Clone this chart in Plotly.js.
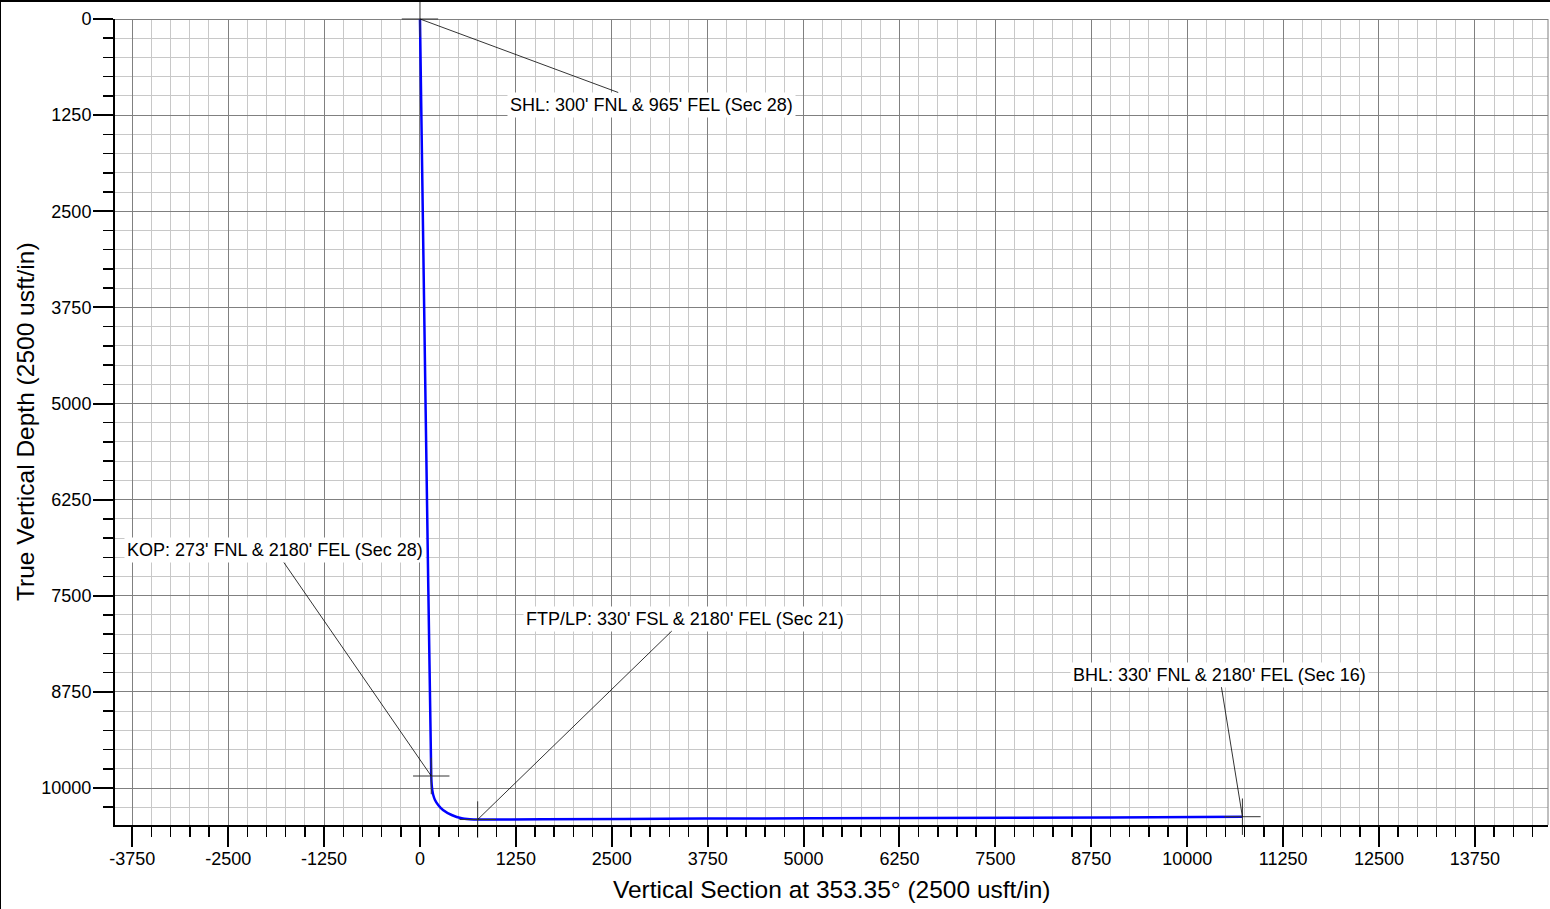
<!DOCTYPE html>
<html>
<head>
<meta charset="utf-8">
<script src="https://cdn.plot.ly/plotly-3.0.1.min.js"></script>
<style>
  html, body { margin: 0; padding: 0; background: #fff; }
  #chart { width: 1550px; height: 909px; }
  #topframe { position: absolute; left: 0; top: 0; width: 1550px; height: 2px; background: #000; z-index: 10; }
  #leftframe { position: absolute; left: 0; top: 0; width: 1px; height: 909px; background: #000; z-index: 10; }
</style>
</head>
<body>
<div id="topframe"></div>
<div id="leftframe"></div>
<div id="chart"></div>
<script>
// Well path (Vertical Section ft, True Vertical Depth ft)
const pathVS  = [0, 74, 147, 153, 160, 173, 196, 240, 300, 413, 544, 650, 752, 1600, 3700, 6500, 9000, 10720];
const pathTVD = [0, 5080, 9844, 9960, 10026, 10091, 10156, 10225, 10286, 10351, 10394, 10405, 10410, 10405, 10398, 10390, 10382, 10373];

// Key points
const keyNames = ["SHL", "KOP", "FTP/LP", "BHL"];
const keyVS  = [0, 147, 752, 10720];
const keyTVD = [0, 9844, 10410, 10373];
const keyLabels = [
  "SHL: 300' FNL & 965' FEL (Sec 28)",
  "KOP: 273' FNL & 2180' FEL (Sec 28)",
  "FTP/LP: 330' FSL & 2180' FEL (Sec 21)",
  "BHL: 330' FNL & 2180' FEL (Sec 16)"
];
// label offsets (px) from the point to the label
const labelAX = [232, -156, 207, -23];
const labelAY = [86, -226, -201, -142];

// Axis ticks
const xTicks = [-3750, -2500, -1250, 0, 1250, 2500, 3750, 5000, 6250, 7500, 8750, 10000, 11250, 12500, 13750];
const yTicks = [0, 1250, 2500, 3750, 5000, 6250, 7500, 8750, 10000];

const xTitle = "Vertical Section at 353.35° (2500 usft/in)";
const yTitle = "True Vertical Depth (2500 usft/in)";

const FONT = "Liberation Sans, Arial, sans-serif";

const traces = [
  {
    x: pathVS, y: pathTVD, type: "scatter", mode: "lines",
    line: { color: "#0000ff", width: 2.5, shape: "spline", smoothing: 0.3 },
    hoverinfo: "skip", showlegend: false
  },
  {
    x: keyVS, y: keyTVD, type: "scatter", mode: "markers",
    marker: { symbol: "cross-thin-open", size: 26, color: "#333", line: { color: "#333", width: 1 } },
    cliponaxis: false, hoverinfo: "skip", showlegend: false
  }
];

const annotations = keyLabels.map((t, i) => ({
  x: keyVS[i], y: keyTVD[i], xref: "x", yref: "y",
  text: t, showarrow: true, arrowhead: 0, arrowwidth: 0.8, arrowcolor: "#000",
  ax: labelAX[i], ay: labelAY[i],
  bgcolor: "#ffffff", borderpad: 2,
  font: { family: FONT, size: 18, color: "#000" }
}));
annotations.push({
  xref: "paper", yref: "paper", x: 0.5, y: -0.0806, xanchor: "center", yanchor: "middle",
  text: xTitle, showarrow: false, font: { family: FONT, size: 24.5, color: "#000" }
});
annotations.push({
  xref: "paper", yref: "paper", x: -0.0628, y: 0.5, xanchor: "center", yanchor: "middle",
  text: yTitle, textangle: -90, showarrow: false, font: { family: FONT, size: 24.5, color: "#000" }
});

const layout = {
  width: 1550, height: 909,
  margin: { l: 115, r: 2, t: 19, b: 84 },
  paper_bgcolor: "#fff", plot_bgcolor: "#fff",
  font: { family: FONT, color: "#000" },
  showlegend: false,
  xaxis: {
    range: [-3975, 14703],
    tickmode: "array", tickvals: xTicks, ticktext: xTicks.map(String),
    ticks: "outside", ticklen: 20, tickwidth: 2, tickcolor: "#000",
    tickfont: { family: FONT, size: 18, color: "#000" }, ticklabelstandoff: -4,
    showline: true, linecolor: "#000", linewidth: 2,
    showgrid: true, gridcolor: "#808080", gridwidth: 1,
    zeroline: false,
    minor: { dtick: 250, tick0: 0, ticks: "outside", ticklen: 10, tickwidth: 1.5, tickcolor: "#000",
             showgrid: true, gridcolor: "#c8c8c8", gridwidth: 1 },
    automargin: false, fixedrange: true
  },
  yaxis: {
    range: [10481, 0],
    tickmode: "array", tickvals: yTicks, ticktext: yTicks.map(String),
    ticks: "outside", ticklen: 20, tickwidth: 2, tickcolor: "#000",
    tickfont: { family: FONT, size: 18, color: "#000" }, ticklabelstandoff: -2,
    showline: true, linecolor: "#000", linewidth: 2,
    showgrid: true, gridcolor: "#808080", gridwidth: 1,
    zeroline: true, zerolinecolor: "#808080", zerolinewidth: 1,
    minor: { dtick: 250, tick0: 0, ticks: "outside", ticklen: 10, tickwidth: 1.5, tickcolor: "#000",
             showgrid: true, gridcolor: "#c8c8c8", gridwidth: 1 },
    automargin: false, fixedrange: true
  },
  shapes: [
    { type: "line", xref: "paper", yref: "paper", x0: 1, x1: 1, y0: 0, y1: 1,
      line: { color: "#808080", width: 1 } }
  ],
  annotations: annotations
};

Plotly.newPlot("chart", traces, layout, { displayModeBar: false, staticPlot: true });
</script>
</body>
</html>
